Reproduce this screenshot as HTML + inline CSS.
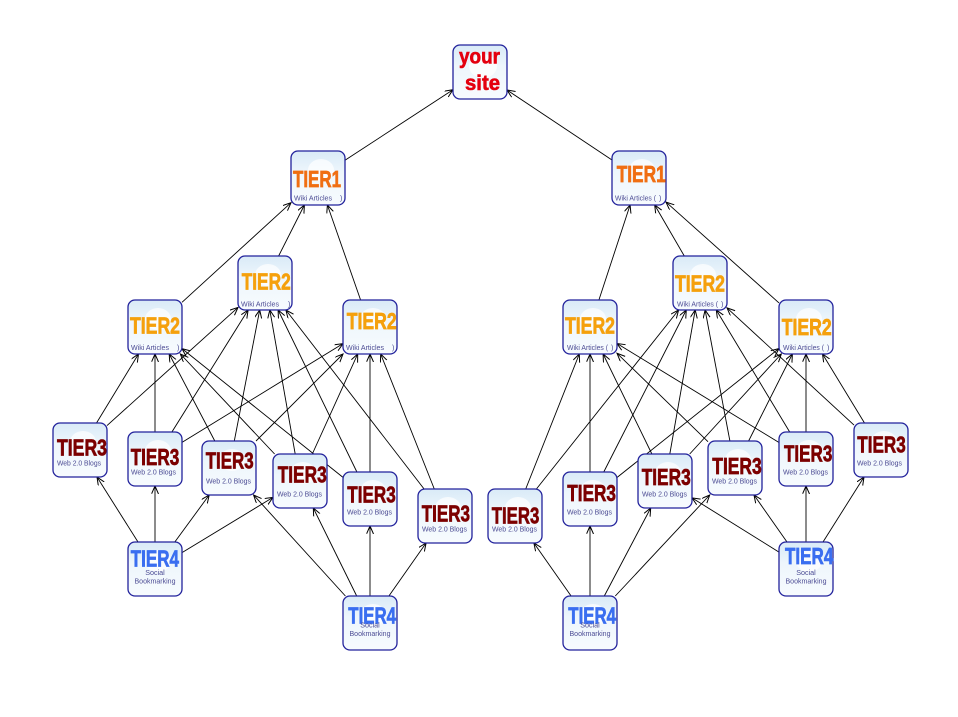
<!DOCTYPE html>
<html>
<head>
<meta charset="utf-8">
<style>
html,body{margin:0;padding:0;background:#fff;}
svg{display:block;}
.t{font-family:"Liberation Sans Narrow","Liberation Sans",sans-serif;font-weight:bold;font-size:23px;stroke-width:0.7;}
.s{font-family:"Liberation Sans",sans-serif;font-size:7.2px;fill:#4c4c94;}
.t1{fill:#f06e12;stroke:#f06e12;}
.t2{fill:#f5a00c;stroke:#f5a00c;}
.t3{fill:#7c0000;stroke:#7c0000;}
.t4{fill:#3a6ef0;stroke:#3a6ef0;}
.bx{stroke:#22229c;stroke-width:1.3;}
</style>
</head>
<body>
<svg width="958" height="717" viewBox="0 0 958 717" xmlns="http://www.w3.org/2000/svg">
<defs>
<linearGradient id="g" x1="0" y1="0" x2="0" y2="1">
<stop offset="0" stop-color="#d9eaf7"/>
<stop offset="0.4" stop-color="#eef6fc"/>
<stop offset="1" stop-color="#f7fbfe"/>
</linearGradient>
<marker id="a" markerUnits="userSpaceOnUse" markerWidth="10" markerHeight="8" refX="8" refY="3.5" orient="auto">
<path d="M0,0 L8,3.5 L0,7" fill="none" stroke="#000" stroke-width="1"/>
</marker>
</defs>
<rect width="958" height="717" fill="#fff"/>

<g stroke="#000" stroke-width="0.9" fill="none" marker-end="url(#a)">
<line x1="345" y1="160.3" x2="453" y2="89.7"/>
<line x1="612" y1="160" x2="507" y2="90"/>
<line x1="182" y1="302.3" x2="291" y2="202.7"/>
<line x1="278.6" y1="256" x2="304.4" y2="205"/>
<line x1="360.6" y1="300" x2="327.4" y2="205"/>
<line x1="598.9" y1="300" x2="630.1" y2="205"/>
<line x1="684.3" y1="256" x2="654.7" y2="205"/>
<line x1="779" y1="302.9" x2="666" y2="202.1"/>
<line x1="96.5" y1="423" x2="138.5" y2="354"/>
<line x1="107" y1="425.6" x2="238" y2="307.4"/>
<line x1="155" y1="432" x2="155" y2="354"/>
<line x1="171.9" y1="432" x2="248.1" y2="310"/>
<line x1="182" y1="442.4" x2="343" y2="343.6"/>
<line x1="214.8" y1="441" x2="169.2" y2="354"/>
<line x1="234.3" y1="441" x2="259.7" y2="310"/>
<line x1="256" y1="441" x2="343" y2="354"/>
<line x1="274.6" y1="454" x2="180.4" y2="354"/>
<line x1="295.2" y1="454" x2="269.8" y2="310"/>
<line x1="312.3" y1="454" x2="357.7" y2="354"/>
<line x1="343" y1="477.4" x2="182" y2="348.6"/>
<line x1="356.9" y1="472" x2="278.1" y2="310"/>
<line x1="370" y1="472" x2="370" y2="354"/>
<line x1="424.1" y1="489" x2="285.9" y2="310"/>
<line x1="434.3" y1="489" x2="380.7" y2="354"/>
<line x1="525.7" y1="489" x2="579.3" y2="354"/>
<line x1="536.4" y1="489" x2="678.6" y2="310"/>
<line x1="590" y1="472" x2="590" y2="354"/>
<line x1="603.75" y1="472" x2="686.25" y2="310"/>
<line x1="617" y1="477.5" x2="779" y2="348.5"/>
<line x1="651.9" y1="454" x2="603.1" y2="354"/>
<line x1="669.8" y1="454" x2="695.2" y2="310"/>
<line x1="689.7" y1="454" x2="781.3" y2="354"/>
<line x1="708" y1="441.7" x2="617" y2="353.3"/>
<line x1="729.9" y1="441" x2="705.1" y2="310"/>
<line x1="748.6" y1="441" x2="792.4" y2="354"/>
<line x1="779" y1="442.5" x2="617" y2="343.5"/>
<line x1="789.7" y1="432" x2="716.3" y2="310"/>
<line x1="806" y1="432" x2="806" y2="354"/>
<line x1="854" y1="425.1" x2="727" y2="307.9"/>
<line x1="864.5" y1="423" x2="822.5" y2="354"/>
<line x1="138" y1="542" x2="97" y2="477"/>
<line x1="155" y1="542" x2="155" y2="486"/>
<line x1="174.8" y1="542" x2="209.2" y2="495"/>
<line x1="182" y1="552.6" x2="273" y2="497.4"/>
<line x1="345.4" y1="596" x2="253.6" y2="495"/>
<line x1="356.7" y1="596" x2="313.3" y2="508"/>
<line x1="370" y1="596" x2="370" y2="526"/>
<line x1="388.9" y1="596" x2="426.1" y2="543"/>
<line x1="571.1" y1="596" x2="533.9" y2="543"/>
<line x1="590" y1="596" x2="590" y2="526"/>
<line x1="604.3" y1="596" x2="650.7" y2="508"/>
<line x1="615.3" y1="596" x2="709.7" y2="495"/>
<line x1="779" y1="552.1" x2="692" y2="497.9"/>
<line x1="787" y1="542" x2="754" y2="495"/>
<line x1="806" y1="542" x2="806" y2="486"/>
<line x1="823" y1="542" x2="864" y2="477"/>
</g>

<!-- your site -->
<g>
<rect class="bx" x="453" y="45" width="54" height="54" rx="7" fill="url(#g)"/>
<ellipse cx="483" cy="66" rx="14" ry="12" fill="#fff" opacity="0.75"/>
<text x="459" y="63.5" textLength="41" lengthAdjust="spacingAndGlyphs" style="font-family:'Liberation Sans',sans-serif;font-weight:bold;font-size:21px;fill:#e4000f;stroke:#e4000f;stroke-width:0.6;">your</text>
<text x="465" y="90" textLength="35" lengthAdjust="spacingAndGlyphs" style="font-family:'Liberation Sans',sans-serif;font-weight:bold;font-size:21px;fill:#e4000f;stroke:#e4000f;stroke-width:0.6;">site</text>
</g>

<!-- TIER1 -->
<g>
<rect class="bx" x="291" y="151" width="54" height="54" rx="7" fill="url(#g)"/>
<ellipse cx="321" cy="170" rx="13" ry="11" fill="#fff" opacity="0.7"/>
<text class="t t1" x="293" y="186.8" textLength="48" lengthAdjust="spacingAndGlyphs">TIER1</text>
<text class="s" x="294" y="200.5" textLength="38" lengthAdjust="spacingAndGlyphs">Wiki Articles</text>
<text class="s" x="340" y="200.5">)</text>
</g>
<g>
<rect class="bx" x="612" y="151" width="54" height="54" rx="7" fill="url(#g)"/>
<ellipse cx="642" cy="170" rx="13" ry="11" fill="#fff" opacity="0.7"/>
<text class="t t1" x="616.7" y="181.8" textLength="49" lengthAdjust="spacingAndGlyphs">TIER1</text>
<text class="s" x="615" y="200.5" textLength="41" lengthAdjust="spacingAndGlyphs">Wiki Articles (</text>
<text class="s" x="659" y="200.5">)</text>
</g>

<!-- TIER2 -->
<g>
<rect class="bx" x="128" y="300" width="54" height="54" rx="7" fill="url(#g)"/>
<ellipse cx="158" cy="319" rx="13" ry="11" fill="#fff" opacity="0.7"/>
<text class="t t2" x="130" y="333.3" textLength="50" lengthAdjust="spacingAndGlyphs">TIER2</text>
<text class="s" x="131" y="350" textLength="38" lengthAdjust="spacingAndGlyphs">Wiki Articles</text>
<text class="s" x="177" y="350">)</text>
</g>
<g>
<rect class="bx" x="238" y="256" width="54" height="54" rx="7" fill="url(#g)"/>
<ellipse cx="268" cy="275" rx="13" ry="11" fill="#fff" opacity="0.7"/>
<text class="t t2" x="241.7" y="289.5" textLength="49" lengthAdjust="spacingAndGlyphs">TIER2</text>
<text class="s" x="241" y="306.5" textLength="38" lengthAdjust="spacingAndGlyphs">Wiki Articles</text>
<text class="s" x="288" y="306.5">)</text>
</g>
<g>
<rect class="bx" x="343" y="300" width="54" height="54" rx="7" fill="url(#g)"/>
<ellipse cx="373" cy="319" rx="13" ry="11" fill="#fff" opacity="0.7"/>
<text class="t t2" x="346.7" y="329.2" textLength="50" lengthAdjust="spacingAndGlyphs">TIER2</text>
<text class="s" x="346" y="350" textLength="38" lengthAdjust="spacingAndGlyphs">Wiki Articles</text>
<text class="s" x="392" y="350">)</text>
</g>
<g>
<rect class="bx" x="563" y="300" width="54" height="54" rx="7" fill="url(#g)"/>
<ellipse cx="593" cy="319" rx="13" ry="11" fill="#fff" opacity="0.7"/>
<text class="t t2" x="565" y="333.3" textLength="50" lengthAdjust="spacingAndGlyphs">TIER2</text>
<text class="s" x="567" y="350" textLength="41" lengthAdjust="spacingAndGlyphs">Wiki Articles (</text>
<text class="s" x="611" y="350">)</text>
</g>
<g>
<rect class="bx" x="673" y="256" width="54" height="54" rx="7" fill="url(#g)"/>
<ellipse cx="703" cy="275" rx="13" ry="11" fill="#fff" opacity="0.7"/>
<text class="t t2" x="675" y="291.7" textLength="50" lengthAdjust="spacingAndGlyphs">TIER2</text>
<text class="s" x="677" y="306.5" textLength="41" lengthAdjust="spacingAndGlyphs">Wiki Articles (</text>
<text class="s" x="721" y="306.5">)</text>
</g>
<g>
<rect class="bx" x="779" y="300" width="54" height="54" rx="7" fill="url(#g)"/>
<ellipse cx="809" cy="319" rx="13" ry="11" fill="#fff" opacity="0.7"/>
<text class="t t2" x="781.7" y="335" textLength="50" lengthAdjust="spacingAndGlyphs">TIER2</text>
<text class="s" x="783" y="350" textLength="41" lengthAdjust="spacingAndGlyphs">Wiki Articles (</text>
<text class="s" x="827" y="350">)</text>
</g>

<!-- TIER3 left -->
<g>
<rect class="bx" x="53" y="423" width="54" height="54" rx="7" fill="url(#g)"/>
<ellipse cx="83" cy="442" rx="13" ry="11" fill="#fff" opacity="0.7"/>
<text class="t t3" x="57" y="455.7" textLength="50" lengthAdjust="spacingAndGlyphs">TIER3</text>
<text class="s" x="57" y="465.3" textLength="44" lengthAdjust="spacingAndGlyphs">Web 2.0 Blogs</text>
</g>
<g>
<rect class="bx" x="128" y="432" width="54" height="54" rx="7" fill="url(#g)"/>
<ellipse cx="158" cy="451" rx="13" ry="11" fill="#fff" opacity="0.7"/>
<text class="t t3" x="130.7" y="465" textLength="48.6" lengthAdjust="spacingAndGlyphs">TIER3</text>
<text class="s" x="131" y="474.3" textLength="45" lengthAdjust="spacingAndGlyphs">Web 2.0 Blogs</text>
</g>
<g>
<rect class="bx" x="202" y="441" width="54" height="54" rx="7" fill="url(#g)"/>
<ellipse cx="232" cy="460" rx="13" ry="11" fill="#fff" opacity="0.7"/>
<text class="t t3" x="205.7" y="468.3" textLength="48" lengthAdjust="spacingAndGlyphs">TIER3</text>
<text class="s" x="206" y="483.3" textLength="45" lengthAdjust="spacingAndGlyphs">Web 2.0 Blogs</text>
</g>
<g>
<rect class="bx" x="273" y="454" width="54" height="54" rx="7" fill="url(#g)"/>
<ellipse cx="303" cy="473" rx="13" ry="11" fill="#fff" opacity="0.7"/>
<text class="t t3" x="277.7" y="482.7" textLength="49" lengthAdjust="spacingAndGlyphs">TIER3</text>
<text class="s" x="277" y="496.3" textLength="45" lengthAdjust="spacingAndGlyphs">Web 2.0 Blogs</text>
</g>
<g>
<rect class="bx" x="343" y="472" width="54" height="54" rx="7" fill="url(#g)"/>
<ellipse cx="373" cy="491" rx="13" ry="11" fill="#fff" opacity="0.7"/>
<text class="t t3" x="347.3" y="502.7" textLength="48.4" lengthAdjust="spacingAndGlyphs">TIER3</text>
<text class="s" x="347" y="514.3" textLength="45" lengthAdjust="spacingAndGlyphs">Web 2.0 Blogs</text>
</g>
<g>
<rect class="bx" x="418" y="489" width="54" height="54" rx="7" fill="url(#g)"/>
<ellipse cx="448" cy="508" rx="13" ry="11" fill="#fff" opacity="0.7"/>
<text class="t t3" x="421.7" y="521.7" textLength="48.3" lengthAdjust="spacingAndGlyphs">TIER3</text>
<text class="s" x="422" y="531.3" textLength="45" lengthAdjust="spacingAndGlyphs">Web 2.0 Blogs</text>
</g>

<!-- TIER3 right -->
<g>
<rect class="bx" x="488" y="489" width="54" height="54" rx="7" fill="url(#g)"/>
<ellipse cx="518" cy="508" rx="13" ry="11" fill="#fff" opacity="0.7"/>
<text class="t t3" x="491.7" y="523.3" textLength="47.6" lengthAdjust="spacingAndGlyphs">TIER3</text>
<text class="s" x="492" y="531.3" textLength="45" lengthAdjust="spacingAndGlyphs">Web 2.0 Blogs</text>
</g>
<g>
<rect class="bx" x="563" y="472" width="54" height="54" rx="7" fill="url(#g)"/>
<ellipse cx="593" cy="491" rx="13" ry="11" fill="#fff" opacity="0.7"/>
<text class="t t3" x="567.3" y="501" textLength="48.7" lengthAdjust="spacingAndGlyphs">TIER3</text>
<text class="s" x="567" y="514.3" textLength="45" lengthAdjust="spacingAndGlyphs">Web 2.0 Blogs</text>
</g>
<g>
<rect class="bx" x="638" y="454" width="54" height="54" rx="7" fill="url(#g)"/>
<ellipse cx="668" cy="473" rx="13" ry="11" fill="#fff" opacity="0.7"/>
<text class="t t3" x="641.7" y="485" textLength="49" lengthAdjust="spacingAndGlyphs">TIER3</text>
<text class="s" x="642" y="496.3" textLength="45" lengthAdjust="spacingAndGlyphs">Web 2.0 Blogs</text>
</g>
<g>
<rect class="bx" x="708" y="441" width="54" height="54" rx="7" fill="url(#g)"/>
<ellipse cx="738" cy="460" rx="13" ry="11" fill="#fff" opacity="0.7"/>
<text class="t t3" x="712.3" y="474" textLength="49.4" lengthAdjust="spacingAndGlyphs">TIER3</text>
<text class="s" x="712" y="483.3" textLength="45" lengthAdjust="spacingAndGlyphs">Web 2.0 Blogs</text>
</g>
<g>
<rect class="bx" x="779" y="432" width="54" height="54" rx="7" fill="url(#g)"/>
<ellipse cx="809" cy="451" rx="13" ry="11" fill="#fff" opacity="0.7"/>
<text class="t t3" x="784" y="461.7" textLength="48.3" lengthAdjust="spacingAndGlyphs">TIER3</text>
<text class="s" x="783" y="474.3" textLength="45" lengthAdjust="spacingAndGlyphs">Web 2.0 Blogs</text>
</g>
<g>
<rect class="bx" x="854" y="423" width="54" height="54" rx="7" fill="url(#g)"/>
<ellipse cx="884" cy="442" rx="13" ry="11" fill="#fff" opacity="0.7"/>
<text class="t t3" x="857.3" y="452.7" textLength="48.4" lengthAdjust="spacingAndGlyphs">TIER3</text>
<text class="s" x="857" y="465.3" textLength="45" lengthAdjust="spacingAndGlyphs">Web 2.0 Blogs</text>
</g>

<!-- TIER4 -->
<g>
<rect class="bx" x="128" y="542" width="54" height="54" rx="7" fill="url(#g)"/>
<ellipse cx="158" cy="561" rx="13" ry="11" fill="#fff" opacity="0.7"/>
<text class="t t4" x="130.7" y="566.7" textLength="48.3" lengthAdjust="spacingAndGlyphs">TIER4</text>
<text class="s" x="155" y="574.8" text-anchor="middle">Social</text>
<text class="s" x="134.5" y="583.3" textLength="41" lengthAdjust="spacingAndGlyphs">Bookmarking</text>
</g>
<g>
<rect class="bx" x="343" y="596" width="54" height="54" rx="7" fill="url(#g)"/>
<ellipse cx="373" cy="615" rx="13" ry="11" fill="#fff" opacity="0.7"/>
<text class="t t4" x="348.3" y="623.3" textLength="47.7" lengthAdjust="spacingAndGlyphs">TIER4</text>
<text class="s" x="370" y="627.5" text-anchor="middle">Social</text>
<text class="s" x="349.5" y="636" textLength="41" lengthAdjust="spacingAndGlyphs">Bookmarking</text>
</g>
<g>
<rect class="bx" x="563" y="596" width="54" height="54" rx="7" fill="url(#g)"/>
<ellipse cx="593" cy="615" rx="13" ry="11" fill="#fff" opacity="0.7"/>
<text class="t t4" x="568.3" y="623.3" textLength="47.7" lengthAdjust="spacingAndGlyphs">TIER4</text>
<text class="s" x="590" y="627.5" text-anchor="middle">Social</text>
<text class="s" x="569.5" y="636" textLength="41" lengthAdjust="spacingAndGlyphs">Bookmarking</text>
</g>
<g>
<rect class="bx" x="779" y="542" width="54" height="54" rx="7" fill="url(#g)"/>
<ellipse cx="809" cy="561" rx="13" ry="11" fill="#fff" opacity="0.7"/>
<text class="t t4" x="785" y="564" textLength="48.3" lengthAdjust="spacingAndGlyphs">TIER4</text>
<text class="s" x="806" y="575" text-anchor="middle">Social</text>
<text class="s" x="785.5" y="583.3" textLength="41" lengthAdjust="spacingAndGlyphs">Bookmarking</text>
</g>
</svg>
</body>
</html>
